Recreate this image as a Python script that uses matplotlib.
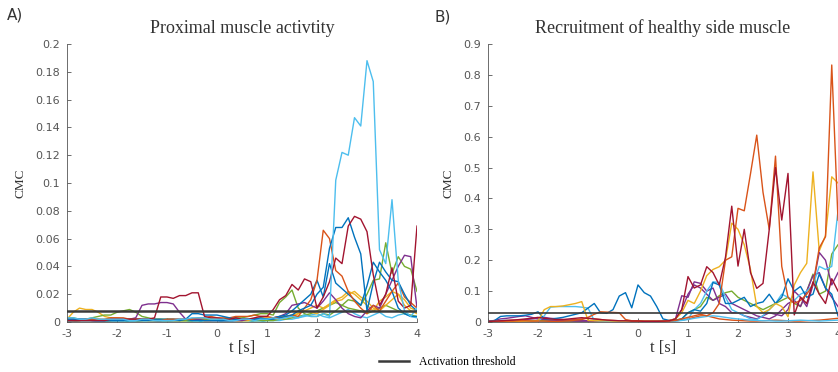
import matplotlib
matplotlib.use("Agg")
import matplotlib.pyplot as plt
import numpy as np

plt.rcParams['axes.unicode_minus'] = False

# time axis: -3 .. 4 s, step 0.125 s
t = np.linspace(-3, 4, 57)

# MATLAB default colour order
C_BLUE, C_ORANGE, C_YELLOW, C_PURPLE, C_GREEN, C_CYAN, C_RED = (
    '#0072BD', '#D95319', '#EDB120', '#7E2F8E', '#77AC30', '#4DBEEE', '#A2142F')

# ---- panel A: proximal muscle activity ----
a_cyan = [.003, .003, .002, .002, .003, .002, .002, .002,
          .002, .002, .001, .001, .002, .002, .001, .001,
          .001, .001, .002, .002, .003, .003, .003, .002,
          .002, .002, .001, .001, .002, .002, .001, .002,
          .002, .003, .002, .003, .004, .003, .005, .004,
          .004, .006, .004, .102, .122, .120, .147, .141,
          .188, .173, .052, .042, .088, .030, .008, .004,
          .010]
a_red = [.001, .001, .001, .001, .001, .001, .001, .002,
         .002, .002, .002, .002, .002, .002, .003, .018,
         .018, .017, .019, .019, .021, .021, .004, .003,
         .003, .002, .002, .003, .002, .002, .003, .004,
         .004, .009, .016, .019, .027, .023, .031, .029,
         .010, .018, .029, .046, .042, .069, .076, .074,
         .065, .034, .012, .020, .039, .015, .010, .012,
         .069]
a_purple = [.002, .002, .002, .002, .001, .001, .001, .002,
            .002, .002, .002, .003, .012, .013, .013, .014,
            .014, .013, .007, .002, .002, .002, .001, .001,
            .001, .001, .001, .001, .001, .002, .002, .002,
            .002, .003, .004, .006, .012, .013, .014, .012,
            .010, .015, .021, .016, .010, .006, .004, .003,
            .008, .012, .010, .020, .030, .040, .048, .047,
            .010]
a_yellow = [.002, .007, .010, .009, .009, .007, .004, .003,
            .003, .002, .002, .002, .002, .001, .001, .001,
            .001, .001, .001, .001, .002, .002, .002, .002,
            .002, .002, .002, .001, .001, .002, .002, .003,
            .003, .003, .004, .004, .005, .006, .008, .010,
            .012, .010, .013, .016, .018, .022, .020, .016,
            .012, .008, .015, .018, .022, .020, .016, .010,
            .008]
a_green = [.003, .003, .002, .002, .003, .004, .005, .005,
           .007, .008, .009, .007, .004, .003, .002, .002,
           .002, .002, .001, .001, .001, .002, .002, .002,
           .002, .002, .003, .003, .003, .004, .005, .006,
           .006, .005, .014, .018, .023, .010, .006, .004,
           .004, .006, .005, .008, .012, .016, .015, .012,
           .020, .030, .031, .057, .035, .047, .040, .038,
           .022]
a_orange = [.001, .001, .001, .002, .002, .002, .002, .003,
            .003, .003, .002, .002, .002, .002, .001, .001,
            .002, .002, .002, .002, .002, .003, .003, .004,
            .003, .003, .003, .004, .004, .004, .005, .004,
            .004, .003, .003, .004, .005, .004, .010, .016,
            .030, .066, .060, .037, .033, .022, .015, .010,
            .006, .012, .008, .015, .022, .028, .018, .014,
            .010]
a_blue1 = [.001, .001, .001, .001, .001, .001, .001, .001,
           .001, .001, .001, .001, .001, .001, .001, .001,
           .001, .001, .001, .002, .006, .006, .005, .005,
           .005, .004, .003, .002, .002, .002, .002, .003,
           .002, .002, .003, .004, .005, .008, .010, .012,
           .020, .025, .053, .068, .068, .075, .061, .049,
           .008, .028, .043, .036, .030, .029, .020, .012,
           .008]
a_blue2 = [.002, .002, .002, .002, .002, .001, .001, .001,
           .001, .001, .002, .002, .002, .002, .002, .002,
           .002, .002, .002, .002, .001, .001, .001, .001,
           .001, .001, .001, .002, .002, .002, .002, .002,
           .002, .003, .004, .005, .008, .012, .016, .020,
           .030, .018, .042, .028, .024, .020, .016, .012,
           .026, .043, .036, .030, .022, .010, .006, .004,
           .004]
a_low1 = [.001, .001, .001, .001, .001, .001, .001, .001,
          .001, .001, .001, .001, .001, .001, .001, .001,
          .001, .001, .001, .001, .001, .001, .001, .001,
          .001, .001, .001, .001, .001, .001, .001, .001,
          .001, .001, .002, .002, .003, .004, .005, .006,
          .008, .010, .012, .014, .012, .010, .009, .008,
          .006, .008, .010, .012, .010, .008, .006, .005,
          .004]
a_low2 = [.002, .001, .001, .002, .002, .002, .001, .001,
          .002, .002, .002, .001, .001, .002, .002, .002,
          .001, .001, .001, .002, .002, .002, .001, .001,
          .002, .002, .002, .001, .001, .001, .002, .002,
          .002, .002, .002, .003, .004, .006, .008, .007,
          .006, .009, .012, .015, .016, .020, .022, .018,
          .015, .010, .008, .012, .016, .020, .012, .008,
          .006]
a_low3 = [.000, .000, .001, .001, .001, .000, .000, .001,
          .001, .001, .000, .000, .001, .001, .001, .000,
          .000, .001, .001, .001, .000, .000, .001, .001,
          .001, .000, .000, .001, .001, .001, .000, .000,
          .001, .001, .001, .002, .002, .003, .004, .005,
          .006, .004, .003, .005, .007, .009, .006, .004,
          .003, .005, .007, .004, .003, .005, .006, .004,
          .003]
a_thr = 0.008

# ---- panel B: recruitment of healthy side muscle ----
b_orange = [.002, .002, .002, .003, .003, .004, .004, .003,
            .003, .003, .002, .002, .003, .004, .006, .008,
            .015, .025, .033, .032, .031, .030, .008, .004,
            .004, .003, .003, .003, .002, .003, .005, .010,
            .015, .020, .025, .020, .030, .060, .200, .211,
            .368, .360, .480, .605, .420, .300, .537, .180,
            .080, .060, .070, .090, .120, .240, .276, .832,
            .330]
b_red = [.002, .003, .004, .005, .006, .008, .010, .012,
         .015, .012, .010, .008, .008, .010, .012, .014,
         .012, .010, .008, .006, .005, .004, .004, .003,
         .003, .002, .002, .002, .003, .004, .010, .040,
         .147, .110, .120, .179, .160, .120, .210, .375,
         .181, .300, .160, .109, .125, .300, .500, .330,
         .481, .023, .080, .060, .130, .090, .060, .140,
         .100]
b_yellow = [.001, .001, .001, .002, .002, .002, .003, .003,
            .004, .040, .050, .050, .052, .056, .060, .066,
            .005, .004, .004, .004, .003, .003, .003, .003,
            .002, .002, .002, .002, .003, .005, .010, .030,
            .070, .060, .100, .150, .170, .179, .200, .320,
            .300, .250, .170, .050, .030, .040, .060, .050,
            .017, .120, .160, .190, .486, .230, .280, .470,
            .450]
b_cyan = [.002, .003, .005, .005, .004, .004, .003, .002,
          .002, .020, .048, .050, .050, .050, .050, .048,
          .045, .005, .003, .002, .002, .002, .002, .002,
          .002, .002, .002, .002, .002, .003, .004, .006,
          .010, .040, .060, .100, .130, .128, .080, .040,
          .030, .020, .010, .008, .020, .040, .060, .090,
          .080, .070, .090, .100, .120, .180, .170, .180,
          .360]
b_blue = [.002, .004, .018, .020, .020, .020, .022, .025,
          .033, .010, .010, .012, .015, .020, .025, .030,
          .045, .060, .030, .028, .040, .084, .095, .046,
          .120, .095, .084, .050, .010, .005, .006, .010,
          .030, .040, .035, .060, .128, .120, .060, .060,
          .070, .080, .050, .060, .065, .090, .060, .080,
          .140, .100, .115, .080, .090, .155, .110, .090,
          .020]
b_purple = [.002, .005, .010, .012, .015, .018, .020, .015,
            .010, .008, .006, .005, .004, .004, .003, .003,
            .003, .003, .003, .002, .002, .002, .002, .002,
            .002, .002, .002, .002, .002, .004, .010, .085,
            .080, .130, .125, .100, .110, .060, .050, .030,
            .030, .020, .015, .010, .020, .030, .025, .020,
            .040, .100, .080, .050, .120, .225, .200, .120,
            .160]
b_purple2 = [.001, .002, .003, .004, .005, .006, .008, .010,
             .012, .015, .012, .010, .008, .006, .005, .004,
             .004, .003, .003, .003, .002, .002, .002, .002,
             .002, .002, .002, .002, .003, .005, .010, .040,
             .090, .120, .110, .090, .070, .080, .090, .060,
             .050, .040, .030, .020, .015, .010, .020, .040,
             .060, .070, .050, .100, .150, .160, .110, .080,
             .050]
b_green = [.001, .001, .002, .002, .003, .003, .004, .005,
           .005, .004, .004, .003, .003, .003, .002, .002,
           .002, .002, .002, .002, .002, .002, .002, .002,
           .002, .002, .002, .002, .003, .004, .006, .010,
           .030, .040, .050, .080, .070, .085, .095, .100,
           .080, .070, .060, .050, .040, .050, .060, .070,
           .080, .060, .050, .100, .155, .090, .100, .220,
           .250]
b_low1 = [.002, .003, .004, .005, .006, .005, .004, .003,
          .002, .002, .003, .004, .005, .006, .008, .010,
          .012, .010, .008, .006, .005, .004, .003, .003,
          .002, .002, .002, .002, .002, .003, .004, .006,
          .010, .015, .020, .020, .015, .010, .008, .006,
          .005, .004, .003, .003, .004, .005, .006, .005,
          .004, .003, .003, .004, .005, .006, .008, .010,
          .012]
b_low2 = [.001, .001, .001, .002, .002, .002, .001, .001,
          .001, .002, .002, .002, .001, .001, .001, .002,
          .002, .002, .001, .001, .001, .002, .002, .002,
          .001, .001, .001, .002, .002, .002, .003, .005,
          .008, .012, .015, .018, .020, .018, .015, .012,
          .010, .008, .006, .005, .004, .004, .003, .003,
          .004, .005, .006, .005, .004, .003, .004, .005,
          .006]
b_thr = 0.028

series_a = [(a_low3, C_CYAN), (a_low1, C_GREEN), (a_low2, C_YELLOW),
            (a_yellow, C_YELLOW), (a_green, C_GREEN), (a_purple, C_PURPLE),
            (a_blue2, C_BLUE), (a_orange, C_ORANGE), (a_blue1, C_BLUE),
            (a_red, C_RED), (a_cyan, C_CYAN)]
series_b = [(b_low1, C_ORANGE), (b_low2, C_CYAN), (b_green, C_GREEN),
            (b_purple2, C_PURPLE), (b_purple, C_PURPLE), (b_cyan, C_CYAN),
            (b_blue, C_BLUE), (b_yellow, C_YELLOW), (b_orange, C_ORANGE),
            (b_red, C_RED)]

W, H = 838, 372
fig = plt.figure(figsize=(W / 100, H / 100), dpi=100)

axcol = '#555555'
serif = 'Liberation Serif'


def panel(rect, series, thr, thr_lw, ymax, yticks, ytl, title, letter, lpos):
    ax = fig.add_axes(rect)
    for vals, col in series:
        ax.plot(t, vals, color=col, lw=1.0)
    h, = ax.plot([-3, 4], [thr, thr], color='#3a3a3a', lw=thr_lw, zorder=10,
                 label='Activation threshold')
    ax.set_xlim(-3, 4)
    ax.set_ylim(0, ymax)
    ax.set_xticks(range(-3, 5))
    ax.set_yticks(yticks)
    ax.set_yticklabels(ytl)
    for s in ['top', 'right']:
        ax.spines[s].set_visible(False)
    for s in ['left', 'bottom']:
        ax.spines[s].set_color(axcol)
        ax.spines[s].set_linewidth(0.6)
    ax.tick_params(direction='in', length=3, width=0.6, colors=axcol,
                   labelsize=8, pad=5)
    ax.set_title(title, fontfamily=serif, fontsize=13, color='#333333', pad=8)
    ax.set_xlabel('t [s]', fontfamily=serif, fontsize=12, color='#333333',
                  labelpad=1)
    ax.set_ylabel('CMC', fontfamily=serif, fontsize=9.5, color='#333333',
                  labelpad=6)
    fig.text(lpos[0], lpos[1], letter, fontsize=11, color='#333333',
             ha='left', va='center')
    return ax, h


ax_a, hthr = panel([67 / W, 50 / H, 350 / W, 278 / H], series_a, a_thr, 1.8,
                   0.2, np.arange(0, 0.201, 0.02),
                   ['0', '0.02', '0.04', '0.06', '0.08', '0.1', '0.12',
                    '0.14', '0.16', '0.18', '0.2'],
                   'Proximal muscle activtity', 'A)', (7 / W, 1 - 15 / H))
ax_b, _ = panel([488 / W, 50 / H, 350 / W, 278 / H], series_b, b_thr, 1.2,
                0.9, np.arange(0, 0.901, 0.1),
                ['0', '0.1', '0.2', '0.3', '0.4', '0.5', '0.6', '0.7',
                 '0.8', '0.9'],
                'Recruitment of healthy side muscle', 'B)', (434 / W, 1 - 17 / H))

fig.legend(handles=[hthr], loc='center', bbox_to_anchor=(447 / W, 1 - 362 / H),
           frameon=False, prop={'family': serif, 'size': 8.5},
           handlelength=2.6, handletextpad=0.8)

fig.savefig('out.png', dpi=100)
